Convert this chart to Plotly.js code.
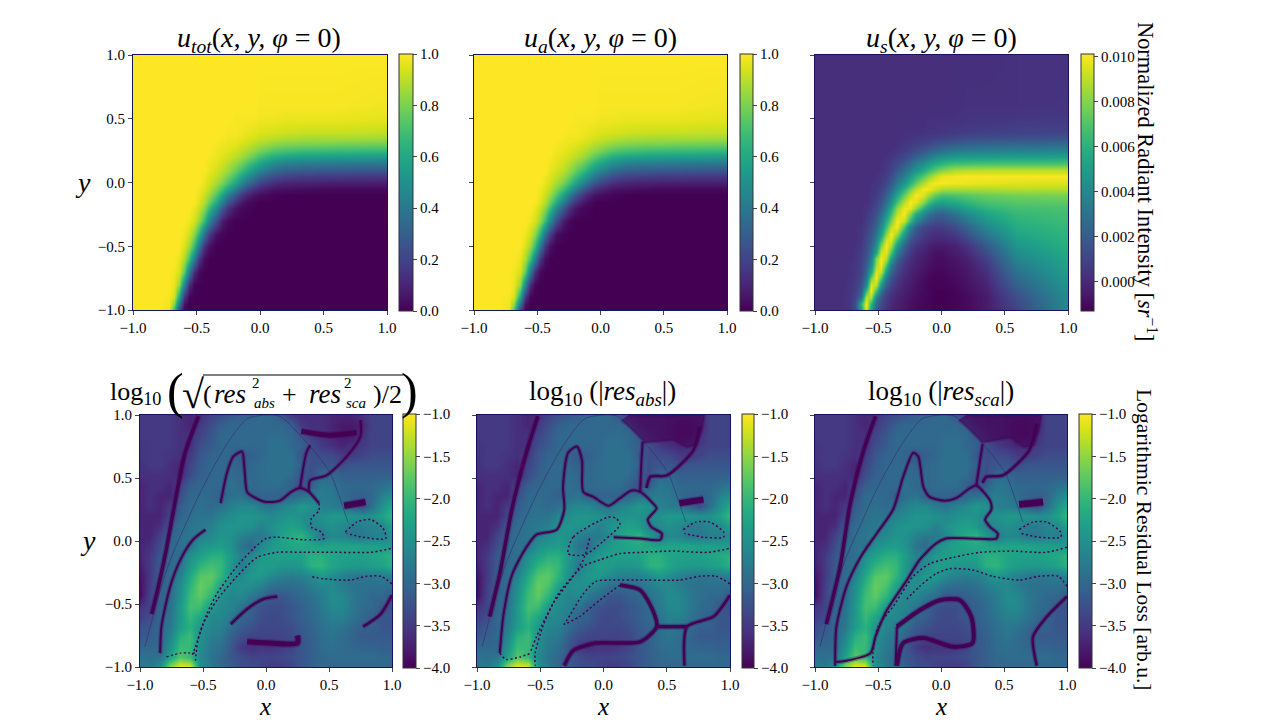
<!DOCTYPE html>
<html><head><meta charset="utf-8">
<script src="https://cdn.plot.ly/plotly-3.0.1.min.js"></script>
<style>html,body{margin:0;padding:0;background:#fff}</style></head>
<body><div id="chart" style="width:1274px;height:720px"></div>
<script>
const xTop=[-1,-.8,-.72,-.68,-.64,-.6,-.56,-.52,-.48,-.44,-.4,-.35,-.3,-.25,-.2,-.15,-.1,-.05,0,.1,.2,.35,.6,1];
const yTop=[1,.6,.5,.4,.35,.3,.25,.2,.15,.1,.05,0,-.05,-.1,-.15,-.2,-.3,-.4,-.5,-.6,-.7,-.8,-.9,-.95,-1];
const yUs=[1,.6,.5,.4,.35,.3,.25,.2,.15,.1,.05,0,-.05,-.1,-.15,-.2,-.25,-.3,-.35,-.4,-.45,-.5,-.55,-.6,-.65,-.7,-.75,-.8,-.85,-.9,-.95,-1];
const uTot=[
[1,1,1,1,1,1,1,1,1,1,1,1,1,1,1,1,1,1,1,1,1,1,1,1],
[1,1,1,1,1,1,1,1,1,1,1,1,1,1,1,1,1,1,.99,.99,.99,.99,.99,.98],
[1,1,1,1,1,1,1,1,1,1,1,1,1,1,.99,.99,.99,.99,.98,.98,.97,.97,.97,.96],
[1,1,1,1,1,1,1,1,1,1,1,1,1,.99,.99,.98,.97,.96,.95,.94,.93,.92,.92,.91],
[1,1,1,1,1,1,1,1,1,1,1,1,.99,.98,.98,.97,.95,.94,.92,.9,.88,.87,.87,.86],
[1,1,1,1,1,1,1,1,1,1,1,.99,.98,.97,.96,.94,.92,.89,.87,.83,.81,.8,.79,.78],
[1,1,1,1,1,1,1,1,1,1,1,.98,.97,.95,.93,.9,.87,.83,.79,.73,.7,.68,.67,.66],
[1,1,1,1,1,1,1,1,1,1,.99,.97,.95,.93,.9,.86,.81,.75,.69,.61,.57,.55,.54,.53],
[1,1,1,1,1,1,1,1,1,1,.98,.96,.93,.89,.84,.79,.72,.65,.58,.49,.44,.42,.41,.4],
[1,1,1,1,1,1,1,1,1,1,.97,.94,.9,.85,.78,.7,.62,.53,.46,.36,.31,.29,.28,.27],
[1,1,1,1,1,1,1,1,1,.98,.95,.91,.86,.79,.7,.6,.5,.41,.33,.24,.2,.18,.17,.16],
[1,1,1,1,1,1,1,1,1,.97,.93,.87,.8,.7,.59,.47,.36,.27,.2,.13,.1,.09,.08,.08],
[1,1,1,1,1,1,1,1,.98,.95,.9,.81,.7,.58,.44,.31,.21,.14,.1,.05,.04,.03,.02,.02],
[1,1,1,1,1,1,1,1,.97,.92,.85,.73,.58,.42,.28,.17,.1,.05,.03,.01,0,0,0,0],
[1,1,1,1,1,1,1,1,.95,.89,.78,.62,.44,.27,.15,.07,.03,.01,0,0,0,0,0,0],
[1,1,1,1,1,1,1,.97,.92,.83,.68,.48,.29,.14,.06,.02,.01,0,0,0,0,0,0,0],
[1,1,1,1,1,1,.98,.94,.84,.68,.46,.24,.08,.02,0,0,0,0,0,0,0,0,0,0],
[1,1,1,1,1,.98,.93,.83,.64,.38,.18,.04,.01,0,0,0,0,0,0,0,0,0,0,0],
[1,1,1,1,1,.95,.86,.68,.4,.15,.04,0,0,0,0,0,0,0,0,0,0,0,0,0],
[1,1,1,1,.97,.88,.7,.42,.15,.03,0,0,0,0,0,0,0,0,0,0,0,0,0,0],
[1,1,1,.98,.94,.76,.42,.12,.02,0,0,0,0,0,0,0,0,0,0,0,0,0,0,0],
[1,1,1,.97,.84,.46,.12,.01,0,0,0,0,0,0,0,0,0,0,0,0,0,0,0,0],
[1,1,.99,.93,.6,.16,.01,0,0,0,0,0,0,0,0,0,0,0,0,0,0,0,0,0],
[1,1,.98,.82,.38,.05,0,0,0,0,0,0,0,0,0,0,0,0,0,0,0,0,0,0],
[1,1,.97,.7,.22,.02,0,0,0,0,0,0,0,0,0,0,0,0,0,0,0,0,0,0]];
const uAbs=uTot;
const uScaMilli=[
[.2,.2,.2,.2,.2,.2,.2,.2,.2,.2,.2,.2,.2,.2,.2,.2,.2,.2,.2,.2,.2,.2,.3,.3],
[.2,.2,.2,.2,.2,.2,.2,.2,.2,.2,.2,.2,.2,.2,.2,.2,.2,.2,.2,.2,.3,.3,.3,.4],
[.2,.2,.2,.2,.2,.2,.2,.2,.2,.2,.2,.2,.2,.2,.2,.2,.3,.3,.3,.3,.4,.4,.5,.6],
[.2,.2,.2,.2,.2,.2,.2,.2,.2,.2,.2,.2,.3,.3,.3,.3,.4,.4,.5,.6,.7,.8,.9,1],
[.2,.2,.2,.2,.2,.2,.2,.2,.2,.2,.2,.2,.3,.4,.5,.6,.7,.8,.9,1.1,1.3,1.4,1.5,1.6],
[.2,.2,.2,.2,.2,.2,.2,.2,.2,.2,.2,.3,.5,.6,.8,1,1.2,1.5,1.7,2,2.2,2.4,2.5,2.6],
[.2,.2,.2,.2,.2,.2,.2,.2,.2,.2,.3,.5,.7,1,1.4,1.8,2.2,2.6,3,3.4,3.6,3.7,3.8,3.9],
[.2,.2,.2,.2,.2,.2,.2,.2,.2,.3,.5,.8,1.1,1.6,2.2,2.8,3.4,4,4.5,4.9,5,5.1,5.1,5.2],
[.2,.2,.2,.2,.2,.2,.2,.2,.3,.4,.7,1.2,1.8,2.6,3.4,4.1,4.9,5.5,6,6.5,6.6,6.7,6.7,6.7],
[.2,.2,.2,.2,.2,.2,.2,.2,.3,.6,1,1.7,2.6,3.6,4.6,5.5,6.4,7.2,7.9,8.6,8.8,8.9,8.9,8.9],
[.2,.2,.2,.2,.2,.2,.2,.3,.5,.8,1.4,2.4,3.5,4.8,6,7,8.1,9,9.7,9.9,10,10,10,10],
[.2,.2,.2,.2,.2,.2,.3,.4,.6,1.1,1.9,3.2,4.6,6,7.4,8.7,9.6,10,10,9.9,9.8,9.7,9.6,9.5],
[.2,.2,.2,.2,.2,.2,.3,.5,.9,1.5,2.6,4.2,6,7.6,9,9.9,9.9,9.3,8.7,8.6,8.6,8.7,8.8,8.8],
[.2,.2,.2,.2,.2,.2,.4,.7,1.2,2.1,3.4,5.4,7.4,9,10,9.6,8.4,7.4,6.8,6.9,7.2,7.5,7.7,7.8],
[.2,.2,.2,.2,.2,.2,.5,.9,1.6,2.8,4.4,6.8,8.8,10,9.6,8.2,6.6,5.6,5.2,5.6,6.2,6.8,7.1,7.2],
[.2,.2,.2,.2,.2,.4,.7,1.2,2.1,3.6,5.6,8.2,9.8,9.8,8.2,6.2,4.6,3.8,3.6,4.2,5.2,6.1,6.7,6.8],
[.2,.2,.2,.2,.2,.5,.9,1.6,2.7,4.5,6.6,9.1,10,8,5.6,4.1,2.9,2.3,2.2,2.9,4,5.3,6.3,6.6],
[.2,.2,.2,.2,.2,.7,1.1,2,3.4,5.6,7.8,10,9.2,6.4,4,2.6,1.8,1.4,1.4,2,3.2,4.6,6,6.5],
[.2,.2,.2,.2,.4,.8,1.4,2.4,4.2,6.6,9,10,7,3.8,2,1.2,.9,.7,.7,1.2,2.3,3.9,5.7,6.3],
[.2,.2,.2,.2,.5,1,1.7,3,5.2,8,10,8.4,5,2.6,1.4,.7,.4,.2,.2,.6,1.6,3.2,5.4,6.2],
[.2,.2,.2,.2,.5,1.1,2,3.6,6.4,9.4,9.6,6.5,3.5,1.7,.9,.4,.1,-.1,-.1,.1,.9,2.5,5,6],
[.2,.2,.2,.3,.6,1.3,2.4,4.4,8,10,8.5,4.8,2.4,1,.4,0,-.3,-.5,-.5,-.3,.3,1.8,4.6,5.9],
[.2,.2,.2,.4,.7,1.4,2.8,5.5,9.4,9.6,6.8,3.4,1.5,.5,0,-.3,-.6,-.8,-.8,-.5,0,1.3,4.2,5.6],
[.2,.2,.2,.4,.8,1.6,3.4,8,10,8.8,5,2.2,.9,.2,-.2,-.5,-.7,-.9,-.9,-.7,-.3,.8,3.8,5.4],
[.2,.2,.3,.5,.9,2,4.2,8.4,10,7,3.4,1.5,.5,0,-.3,-.6,-.8,-1,-1,-.8,-.5,.5,3.4,5.2],
[.2,.2,.3,.5,1,2.4,5.4,9.6,9,5,2.4,1,.2,-.2,-.5,-.8,-1,-1.1,-1.1,-.9,-.6,.2,3,5],
[.2,.2,.3,.6,1.2,3,7.6,10,7,3.4,1.5,.6,0,-.3,-.6,-.9,-1.1,-1.2,-1.2,-1,-.7,0,2.6,4.8],
[.2,.2,.4,.7,1.5,4,9.6,9,4.8,2.2,1,.3,-.2,-.5,-.8,-1,-1.2,-1.2,-1.2,-1.1,-.8,-.2,2.2,4.6],
[.2,.2,.4,.8,2,6.4,10,6.6,3,1.3,.5,0,-.3,-.6,-.8,-1,-1.2,-1.3,-1.3,-1.2,-.9,-.3,1.8,4.4],
[.2,.2,.5,1,2.8,8.8,8.8,4,1.8,.8,.2,-.2,-.5,-.7,-.9,-1.1,-1.2,-1.3,-1.3,-1.2,-1,-.5,1.4,4.2],
[.2,.2,.5,1.4,6,10,6,2.6,1.2,.5,0,-.3,-.6,-.8,-1,-1.1,-1.2,-1.3,-1.3,-1.2,-1,-.5,1.2,4.1],
[.2,.2,.4,1.2,5,9.5,5,2.4,1,.4,-.1,-.4,-.6,-.8,-1,-1.1,-1.2,-1.3,-1.3,-1.2,-1,-.5,1,4]];
const xRes=[-1,-.92,-.84,-.76,-.68,-.6,-.52,-.44,-.36,-.28,-.2,-.12,-.04,.04,.12,.2,.28,.36,.44,.52,.6,.68,.76,.84,.92,1];
const yRes=[1,.92,.84,.76,.68,.6,.52,.44,.36,.28,.2,.12,.04,-.04,-.12,-.2,-.28,-.36,-.44,-.52,-.6,-.68,-.76,-.84,-.92,-1];
const logRes=[
[-3.5,-3.5,-3.5,-3.5,-3.6,-3.7,-3.6,-3.4,-3.3,-3.2,-3.1,-3.0,-3.0,-3.0,-3.2,-3.5,-3.6,-3.6,-3.6,-3.7,-3.7,-3.7,-3.6,-3.4,-3.4,-3.4],
[-3.5,-3.5,-3.5,-3.5,-3.6,-3.7,-3.5,-3.3,-3.1,-3.0,-3.0,-3.0,-3.0,-3.0,-3.0,-3.1,-3.5,-3.6,-3.6,-3.7,-3.8,-3.8,-3.7,-3.4,-3.4,-3.4],
[-3.5,-3.5,-3.5,-3.5,-3.6,-3.6,-3.4,-3.2,-3.0,-3.0,-3.0,-3.0,-3.0,-2.95,-2.95,-3.0,-3.2,-3.5,-3.6,-3.7,-3.8,-3.8,-3.6,-3.4,-3.4,-3.4],
[-3.55,-3.5,-3.5,-3.5,-3.6,-3.6,-3.3,-3.15,-3.0,-3.0,-3.0,-3.0,-3,-2.9,-2.9,-3.0,-3.1,-3.3,-3.5,-3.6,-3.7,-3.6,-3.5,-3.4,-3.4,-3.4],
[-3.55,-3.5,-3.5,-3.55,-3.6,-3.5,-3.2,-3.05,-3.0,-3.05,-3.2,-3.1,-3,-2.9,-2.9,-2.9,-3.2,-3.3,-3.3,-3.35,-3.5,-3.5,-3.4,-3.3,-3.3,-3.3],
[-3.6,-3.5,-3.5,-3.6,-3.7,-3.4,-3.15,-3.0,-3.0,-3.0,-3.1,-3.0,-2.95,-2.9,-2.9,-2.9,-3.1,-3.3,-3.2,-3.2,-3.3,-3.2,-3.2,-3.2,-3.2,-3.2],
[-3.6,-3.6,-3.6,-3.6,-3.7,-3.3,-3.1,-3.0,-3.0,-2.95,-3.0,-3.0,-2.95,-2.9,-2.9,-2.95,-3.2,-3.3,-3.0,-3.0,-3.1,-3.1,-3.1,-3.1,-3.1,-3.1],
[-3.7,-3.6,-3.6,-3.7,-3.4,-3.1,-3.0,-3.0,-3.0,-2.9,-3.0,-3.0,-2.95,-2.95,-2.95,-3.1,-3.3,-3.1,-2.8,-2.85,-3.0,-3.0,-3.0,-3.0,-2.9,-2.8],
[-3.7,-3.6,-3.7,-3.7,-3.3,-3.0,-2.95,-3.0,-3.1,-2.9,-2.85,-3.1,-3.05,-3.05,-3.1,-3.0,-2.9,-2.8,-2.75,-2.8,-2.95,-3.05,-3.1,-3.0,-2.7,-2.5],
[-3.7,-3.6,-3.7,-3.5,-3.15,-2.95,-2.9,-3.0,-2.9,-2.7,-2.6,-2.6,-2.8,-2.85,-2.7,-2.6,-2.4,-2.5,-2.7,-2.75,-2.8,-3.1,-3.3,-2.9,-2.5,-2.2],
[-3.7,-3.7,-3.7,-3.4,-3.05,-2.9,-2.85,-2.85,-2.65,-2.55,-2.45,-2.45,-2.5,-2.6,-2.5,-2.45,-2.5,-2.6,-2.5,-2.4,-2.4,-2.45,-2.5,-2.5,-2.3,-2.0],
[-3.7,-3.7,-3.6,-3.2,-2.95,-2.85,-2.8,-2.7,-2.5,-2.45,-2.45,-2.5,-2.7,-2.5,-2.4,-2.3,-2.4,-2.7,-2.6,-2.5,-2.6,-2.75,-2.75,-2.65,-2.6,-2.3],
[-3.7,-3.7,-3.4,-3.1,-2.9,-2.85,-2.7,-2.6,-2.45,-2.5,-2.7,-2.8,-2.8,-2.6,-2.3,-2.15,-2.05,-2.4,-2.8,-2.6,-2.65,-2.8,-2.8,-2.7,-2.7,-2.5],
[-3.7,-3.6,-3.3,-3.0,-2.9,-2.85,-2.5,-2.4,-2.35,-2.5,-2.85,-3.0,-2.6,-2.4,-2.3,-2.25,-2.2,-2.25,-2.3,-2.25,-2.25,-2.25,-2.3,-2.3,-2.35,-2.4],
[-3.7,-3.5,-3.2,-3.0,-2.95,-2.5,-2.3,-2.1,-2.1,-2.4,-2.7,-2.6,-2.4,-2.35,-2.3,-2.3,-2.3,-2.1,-2.1,-2.25,-2.3,-2.3,-2.3,-2.25,-2.2,-2.05],
[-3.75,-3.5,-3.15,-3.0,-2.85,-2.4,-2.05,-1.9,-2.0,-2.45,-2.8,-2.5,-2.35,-2.35,-2.45,-2.45,-2.4,-2.1,-2.05,-2.25,-2.35,-2.4,-2.4,-2.35,-2.3,-2.1],
[-3.85,-3.5,-3.1,-2.95,-2.7,-2.2,-1.8,-1.75,-2.05,-2.5,-2.6,-2.4,-2.4,-2.6,-2.7,-2.75,-2.7,-2.6,-2.4,-2.55,-2.7,-2.8,-2.85,-2.8,-2.75,-2.7],
[-3.9,-3.45,-3.1,-2.95,-2.55,-2.05,-1.7,-1.85,-2.3,-2.55,-2.5,-2.55,-2.7,-2.9,-2.95,-2.95,-2.9,-2.75,-2.65,-2.6,-2.75,-2.85,-2.9,-2.9,-2.9,-2.95],
[-3.9,-3.4,-3.1,-2.95,-2.5,-1.95,-1.75,-2.05,-2.5,-2.65,-2.6,-2.8,-2.95,-3.2,-3.2,-3.1,-3.0,-2.9,-2.75,-2.55,-2.6,-2.8,-2.9,-3.0,-3.0,-3.2],
[-3.55,-3.4,-3.05,-2.9,-2.4,-1.9,-1.95,-2.4,-2.6,-2.65,-2.85,-3.1,-3.25,-3.3,-3.3,-3.2,-3.1,-2.95,-2.8,-2.6,-2.6,-2.8,-2.95,-3.0,-3.2,-3.3],
[-3.45,-3.3,-3.0,-2.85,-2.4,-2.0,-2.25,-2.6,-2.6,-2.8,-3.05,-3.1,-3.3,-3.35,-3.3,-3.2,-3.1,-3.0,-2.85,-2.7,-2.7,-2.85,-3.0,-3.1,-3.2,-3.2],
[-3.3,-3.15,-3.0,-2.8,-2.35,-2.1,-2.45,-2.65,-2.7,-2.95,-3.15,-3.25,-3.35,-3.35,-3.35,-3.3,-3.15,-3.05,-2.9,-2.8,-2.85,-3.0,-3.1,-3.1,-3.2,-3.2],
[-3.2,-3.1,-3.0,-2.65,-2.1,-1.95,-2.5,-2.75,-2.8,-3.1,-3.3,-3.4,-3.4,-3.4,-3.4,-3.35,-3.2,-3.1,-2.95,-2.85,-2.95,-3.05,-3.15,-3.15,-3.15,-3.15],
[-3.0,-3.0,-3.0,-2.5,-1.95,-2.0,-2.55,-2.8,-2.9,-3.2,-3.5,-3.6,-3.55,-3.55,-3.5,-3.4,-3.2,-3.1,-2.95,-2.9,-2.95,-3.0,-3.05,-3.05,-3.1,-3.1],
[-2.85,-2.9,-2.85,-2.3,-1.8,-2.0,-2.6,-2.85,-3.0,-3.2,-3.3,-3.4,-3.4,-3.4,-3.35,-3.3,-3.2,-3.1,-3.0,-2.95,-2.95,-2.95,-2.95,-2.95,-3.0,-3.0],
[-2.8,-2.8,-2.5,-1.5,-1.05,-1.1,-2.5,-2.8,-3,-3.1,-3.3,-3.3,-3.4,-3.5,-3.5,-3.4,-3.2,-3.1,-3.0,-3,-3,-3,-3,-3,-3,-3]];
// dark minima traced across each residual panel: flat x,y pairs
const edgeDome=[-.96,-.84,-.86,-.46,-.76,-.15,-.63,.15,-.5,.43,-.31,.77,-.15,.97,0,1,.11,.99,.35,.75,.51,.54,.6,.3,.65,.15];
const absPatch=[.14,.96,.23,.88,.33,.78,.55,.8,.66,.74,.74,.76,.78,.88,.8,1,.2,1];
const scaPatch=[.14,.96,.23,.88,.33,.78,.55,.82,.66,.74,.74,.76,.78,.88,.8,1,.2,1];
const totalCurves=[
[-.907,-.58,-.854,-.36,-.788,-.05,-.709,.38,-.642,.7,-.536,.99],
[-.84,-.89,-.83,-.68,-.76,-.36,-.68,-.15,-.58,.01,-.48,.09],
[-.36,.3,-.31,.54,-.26,.67,-.19,.71,-.17,.56,-.15,.39,-.1,.35,0,.31,.11,.32,.2,.39,.27,.42,.34,.39,.42,.3],
[.27,.42,.32,.7,.35,.76],
[.34,.39,.35,.48,.48,.52,.64,.67,.75,.83,.75,.96],
[.42,.3,.42,.24,.36,.18,.36,.11,.44,.07,.46,.02,.3,.01,.09,.03,0,.02,-.1,-.06,-.23,-.2,-.39,-.42,-.47,-.58,-.54,-.79,-.56,-.95],
[.99,-.06,.83,-.09,.56,-.09,.3,-.09,.09,-.09,-.07,-.13,-.23,-.28,-.39,-.47,-.5,-.66,-.56,-.84,-.59,-.92],
[1,-.34,.91,-.28,.8,-.28,.67,-.31,.46,-.3,.35,-.28],
[.63,.07,.72,.15,.83,.17,.93,.1,.95,.02,.77,.03,.64,.06],
[.62,.28,.79,.31],
[1,-.43,.91,-.58,.77,-.68],
[-.28,-.66,-.15,-.54,-.02,-.46,.09,-.44],
[-.15,-.8,.03,-.81,.25,-.81,.25,-.75],
[-.79,-.92,-.68,-.89,-.56,-.89],
[.28,.87,.5,.84,.72,.86]];
const absCurves=[
[-.9,-.6,-.82,-.26,-.72,.27,-.61,.7,-.52,.99],
[-.82,-.89,-.79,-.58,-.72,-.26,-.61,-.05,-.53,.05,-.37,.09,-.31,.25,-.32,.43,-.28,.7,-.21,.75,-.17,.64,-.16,.39,-.08,.35,.04,.28,.13,.34,.22,.4,.29,.39,.39,.3,.42,.26,.35,.17,.38,.11,.46,.06,.45,.01,.29,.02,.08,.03],
[-.82,-.89,-.77,-.94,-.66,-.92,-.57,-.89],
[.04,.19,-.24,.03,-.28,-.1,-.15,-.11,0,0,.13,.13,.1,.18,.04,.19],
[.29,.39,.3,.64,.31,.79],
[.34,.42,.37,.51,.5,.52,.71,.72,.76,.91],
[.99,-.06,.82,-.09,.55,-.08,.29,-.09,.13,-.1,-.03,-.15,-.16,-.2,-.27,-.31,-.37,-.44,-.48,-.68,-.54,-.89,-.54,-.99],
[-.11,.02,-.16,-.15,-.24,-.28,-.4,-.5,-.53,-.76,-.58,-.89],
[1,-.34,.89,-.28,.76,-.28,.6,-.31,.34,-.31,.05,-.31,-.06,-.32,-.16,-.42,-.29,-.63,-.31,-.66,-.19,-.6,-.03,-.47,.13,-.35],
[.13,-.35,.29,-.39,.39,-.55,.42,-.68,.29,-.8,-.06,-.81,-.24,-.87,-.31,-.99],
[1,-.43,.87,-.6,.66,-.68,.64,-.99],
[.42,-.68,.66,-.68],
[.63,.09,.73,.15,.84,.15,.95,.07,.95,.03,.79,.03,.64,.06],
[.6,.3,.79,.33]];
const scaCurves=[
[-.91,-.66,-.8,-.2,-.72,.3,-.62,.7,-.52,.99],
[-.84,-.99,-.83,-.68,-.75,-.36,-.64,-.13,-.51,.06,-.38,.25,-.3,.51,-.22,.7,-.18,.67,-.14,.43,-.09,.35,.03,.32,.12,.34,.23,.42,.28,.44,.39,.32,.4,.25,.35,.17,.39,.11,.45,.06,.44,.02,.25,.02,.04,.02,-.04,-.02,-.17,-.15,-.27,-.31,-.43,-.55,-.52,-.76,-.56,-.89,-.75,-.95,-.84,-.96],
[1,-.05,.83,-.09,.57,-.08,.31,-.09,.1,-.13,-.09,-.18,-.22,-.28,-.38,-.52,-.5,-.68,-.54,-.89,-.54,-.99],
[1,-.36,.93,-.28,.78,-.28,.62,-.31,.41,-.28,.25,-.23,.07,-.22,-.04,-.26,-.17,-.36,-.27,-.46],
[1,-.44,.84,-.6,.73,-.76,.76,-.99],
[-.35,-.68,-.17,-.55,-.01,-.47,.15,-.47,.24,-.6,.25,-.81,.1,-.84,-.14,-.77,-.3,-.81,-.35,-.99],
[-.35,-.68,-.36,-.99],
[.28,.44,.33,.77],
[.33,.46,.36,.51,.49,.52,.7,.72,.76,.93],
[.62,.09,.73,.15,.84,.15,.95,.07,.95,.03,.78,.03,.64,.06],
[.62,.29,.81,.31]];
const totalWidths=[3.5,2,2,2,2,1.5,1.5,1.5,1.5,6,2.5,2.5,5,1.2,5];
const totalDots=[0,0,0,0,0,1,1,1,1,0,0,0,0,1,0];
const absWidths=[3.5,2,1.5,1.5,2,2.5,1.5,1.5,1.5,3.5,2.5,3.5,1.5,6];
const absDots=[0,0,1,1,0,0,1,1,1,0,0,0,1,0];
const scaWidths=[3.5,2,1.5,1.5,2.5,4,2,2,2.5,1.5,6.5];
const scaDots=[0,0,1,1,0,0,0,0,0,1,0];
const ticks=[-1,-.5,0,.5,1];
const ticksUnit=[0,.2,.4,.6,.8,1];
const ticksSca=[0,.002,.004,.006,.008,.01];
const ticksLog=[-4,-3.5,-3,-2.5,-2,-1.5,-1];

const W=1274,H=720,FONT='"Liberation Serif",serif',INK='#000',DARK='rgba(68,1,84,1)',HALO='rgba(68,1,84,.3)',TS=15;
const panels=[
 {l:133,r:387,t:55,b:310,c:399,cw:14,cy0:54,cy1:311,yt:1},
 {l:474,r:727,t:55,b:310,c:740,cw:13,cy0:54,cy1:311,yt:0},
 {l:815,r:1068,t:55,b:310,c:1081,cw:13,cy0:54,cy1:311,yt:0},
 {l:140,r:392,t:415,b:667,c:403,cw:13,cy0:414,cy1:668,yt:1},
 {l:477,r:730,t:415,b:667,c:742,cw:12,cy0:414,cy1:668,yt:0},
 {l:815,r:1067,t:415,b:667,c:1079,cw:13,cy0:414,cy1:668,yt:0}];
const fields=[
 {x:xTop,y:yTop,z:uTot,min:0,max:1,tv:ticksUnit,fmt:'.1f'},
 {x:xTop,y:yTop,z:uAbs,min:0,max:1,tv:ticksUnit,fmt:'.1f'},
 {x:xTop,y:yUs,z:uScaMilli.map(r=>r.map(v=>v/1000)),min:-.0013,max:.0101,tv:ticksSca,fmt:'.3f'},
 {x:xRes,y:yRes,z:logRes,min:-4,max:-1,tv:ticksLog,fmt:'.1f'},
 {x:xRes,y:yRes,z:logRes,min:-4,max:-1,tv:ticksLog,fmt:'.1f'},
 {x:xRes,y:yRes,z:logRes,min:-4,max:-1,tv:ticksLog,fmt:'.1f'}];
const data=[],layout={width:W,height:H,margin:{l:0,r:0,t:0,b:0},paper_bgcolor:'#fff',plot_bgcolor:'#fff',showlegend:false,font:{family:FONT,color:INK},annotations:[],shapes:[]};
panels.forEach((p,i)=>{
 const n=i+1,xk='xaxis'+(n>1?n:''),yk='yaxis'+(n>1?n:''),xr='x'+(n>1?n:''),yr='y'+(n>1?n:''),f=fields[i];
 layout[xk]={domain:[p.l/W,p.r/W],range:[-1,1],anchor:yr,tickvals:ticks,tickformat:'.1f',ticks:'outside',ticklen:4,tickwidth:1,tickfont:{size:TS,family:FONT},showline:true,linecolor:'#14145a',linewidth:1,mirror:true,showgrid:false,zeroline:false};
 layout[yk]={domain:[1-p.b/H,1-p.t/H],range:[-1,1],anchor:xr,tickvals:ticks,tickformat:'.1f',ticks:'outside',ticklen:4,tickwidth:1,tickfont:{size:TS,family:FONT},showticklabels:!!p.yt,showline:true,linecolor:'#14145a',linewidth:1,mirror:true,showgrid:false,zeroline:false};
 data.push({type:'heatmap',x:f.x,y:f.y.slice().reverse(),z:f.z.slice().reverse(),xaxis:xr,yaxis:yr,colorscale:'Viridis',zmin:f.min,zmax:f.max,zsmooth:'best',hoverinfo:'skip',
  colorbar:{x:p.c/W,xanchor:'left',xpad:0,ypad:0,y:1-p.cy0/H,yanchor:'top',len:(p.cy1-p.cy0)/H,lenmode:'fraction',thickness:p.cw,thicknessmode:'pixels',tickmode:'array',tickvals:f.tv,tickformat:f.fmt,ticks:'outside',ticklen:4,tickwidth:1,tickfont:{size:TS,family:FONT},outlinecolor:'#333',outlinewidth:1}});
});
function pairs(pts){const xs=[],ys=[];for(let k=0;k<pts.length;k+=2){xs.push(pts[k]);ys.push(pts[k+1]);}return [xs,ys];}
function addCurve(pts,n,w,dot){
 const [xs,ys]=pairs(pts),sfx=n>1?n:'';
 if(!dot) data.push({type:'scatter',mode:'lines',x:xs,y:ys,xaxis:'x'+sfx,yaxis:'y'+sfx,hoverinfo:'skip',line:{color:HALO,width:w+2.5,shape:'spline',smoothing:.7}});
 data.push({type:'scatter',mode:'lines',x:xs,y:ys,xaxis:'x'+sfx,yaxis:'y'+sfx,hoverinfo:'skip',line:{color:DARK,width:w,shape:'spline',smoothing:.7,dash:dot?'2px,2.5px':'solid'}});
}
function addEdge(pts,n){
 const [xs,ys]=pairs(pts),sfx=n>1?n:'';
 data.push({type:'scatter',mode:'lines',x:xs,y:ys,xaxis:'x'+sfx,yaxis:'y'+sfx,hoverinfo:'skip',line:{color:'rgba(60,20,110,.45)',width:1,shape:'spline',smoothing:.7}});
}
function addPatch(pts,n){
 const [xs,ys]=pairs(pts),sfx=n>1?n:'';
 data.push({type:'scatter',mode:'lines',x:xs,y:ys,xaxis:'x'+sfx,yaxis:'y'+sfx,hoverinfo:'skip',fill:'toself',fillcolor:'rgba(68,1,84,.62)',line:{color:'rgba(68,1,84,.25)',width:3}});
}
addPatch(absPatch,5);addPatch(scaPatch,6);
[[totalCurves,totalWidths,totalDots,4],[absCurves,absWidths,absDots,5],[scaCurves,scaWidths,scaDots,6]].forEach(([cs,ws,ds,n])=>{
 addEdge(edgeDome,n);
 cs.forEach((c,k)=>addCurve(c,n,ws[k],ds[k]));
});
function note(text,x,y,size,opt){layout.annotations.push(Object.assign({text,xref:'paper',yref:'paper',x:x/W,y:1-y/H,showarrow:false,xanchor:'center',yanchor:'middle',font:{family:FONT,size,color:INK}},opt||{}));}
note('<i>u<sub>tot</sub></i>(<i>x, y, φ</i> = 0)',259,39,28);
note('<i>u<sub>a</sub></i>(<i>x, y, φ</i> = 0)',600,39,28);
note('<i>u<sub>s</sub></i>(<i>x, y, φ</i> = 0)',941,39,28);
note('log<sub>10</sub> (|<i>res<sub>abs</sub></i>|)',602,393,27);
note('log<sub>10</sub> (|<i>res<sub>sca</sub></i>|)',941,393,27);
note('log<sub>10</sub>',135,393,26);
note('(',175,391,50);
note('√',193,394,40);
note('(',208,394,26);
note('<i>res</i>',230,394,27);
note('2',256,383,15);
note('<i>abs</i>',264,403,15);
note('+',289,394,26);
note('<i>res</i>',325,394,27);
note('2',348,383,15);
note('<i>sca</i>',356,403,15);
note(')/2',387,394,26);
note(')',409,391,50);
layout.shapes.push({type:'line',xref:'paper',yref:'paper',x0:203/W,x1:403/W,y0:1-375/H,y1:1-375/H,line:{color:INK,width:1}});
note('Normalized Radiant Intensity [<i>sr</i><sup>−1</sup>]',1147,182,22.4,{textangle:90});
note('Logarithmic Residual Loss [arb.u.]',1144,540,21.5,{textangle:90});
note('<i>y</i>',83,182,28);
note('<i>y</i>',88,540,28);
note('<i>x</i>',265,706,25);
note('<i>x</i>',603,706,25);
note('<i>x</i>',941,706,25);
Plotly.newPlot('chart',data,layout,{staticPlot:true,displayModeBar:false});
</script></body></html>
